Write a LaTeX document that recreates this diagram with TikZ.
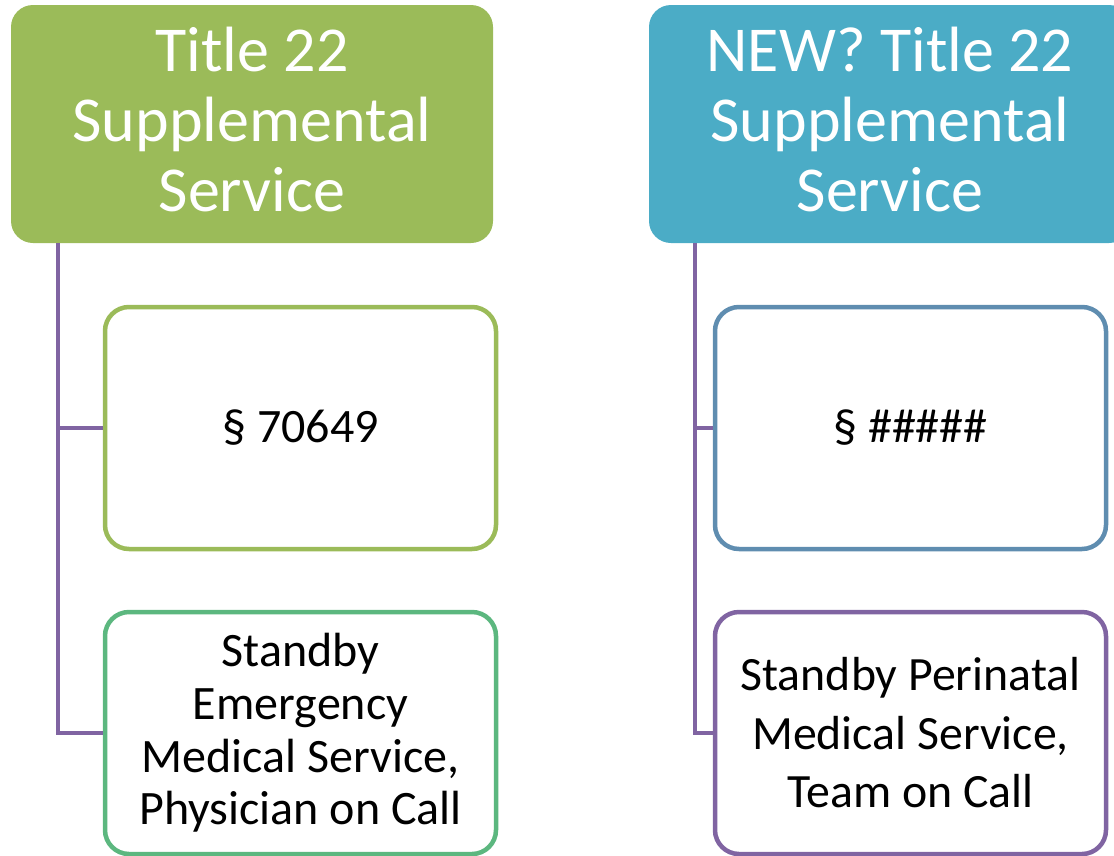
\documentclass[tikz,border=0pt]{standalone}
\usepackage{fontspec}
\setmainfont{Carlito}
\usepackage{tikz}
\definecolor{hdgreen}{HTML}{9BBB59}
\definecolor{hdblue}{HTML}{4BACC6}
\definecolor{bdteal}{HTML}{5CB77F}
\definecolor{bdsteel}{HTML}{5F8DB0}
\definecolor{lnpurple}{HTML}{8064A2}

\tikzset{
  head/.style={rounded corners=22pt, minimum width=482pt, minimum height=238pt,
    text=white, align=center, inner sep=0pt, text depth=9pt,
    font=\fontsize{64}{70}\selectfont},
  leaf/.style={draw, line width=4.5pt, fill=white, rounded corners=24pt,
    minimum width=391pt, minimum height=242pt, align=center, inner sep=0pt,
    font=\fontsize{48}{52.7}\selectfont},
  link/.style={draw=lnpurple, line width=4.5pt}
}

\begin{document}
\begin{tikzpicture}[x=1pt,y=-1pt]
  \useasboundingbox (0,0) rectangle (1114,855);
  \clip (0,0) rectangle (1114,855);
  \node[head, fill=hdgreen] (lhead) at (252,124) {Title 22\\Supplemental\\Service};
  \node[head, fill=hdblue] (rhead) at (890,124) {NEW? Title 22\\Supplemental\\Service};
  \coordinate (ltrunk) at (58,243);
  \coordinate (rtrunk) at (695,243);
  \draw[link] (ltrunk) -- (58,733);
  \draw[link] (rtrunk) -- (695,733);
  \node[leaf, draw=hdgreen] (lsec) at (300.5,428) {§ 70649};
  \node[leaf, draw=bdteal] (lsvc) at (300.5,733) {Standby\\Emergency\\Medical Service,\\Physician on Call};
  \node[leaf, draw=bdsteel] (rsec) at (910.5,428) {§ \#\#\#\#\#};
  \node[leaf, draw=lnpurple, font=\fontsize{47.8}{58.5}\selectfont] (rsvc) at (910.5,733) {Standby Perinatal\\Medical Service,\\Team on Call};
  \draw[link] (ltrunk) |- (lsec.west);
  \draw[link] (ltrunk) |- (lsvc.west);
  \draw[link] (rtrunk) |- (rsec.west);
  \draw[link] (rtrunk) |- (rsvc.west);
\end{tikzpicture}
\end{document}
